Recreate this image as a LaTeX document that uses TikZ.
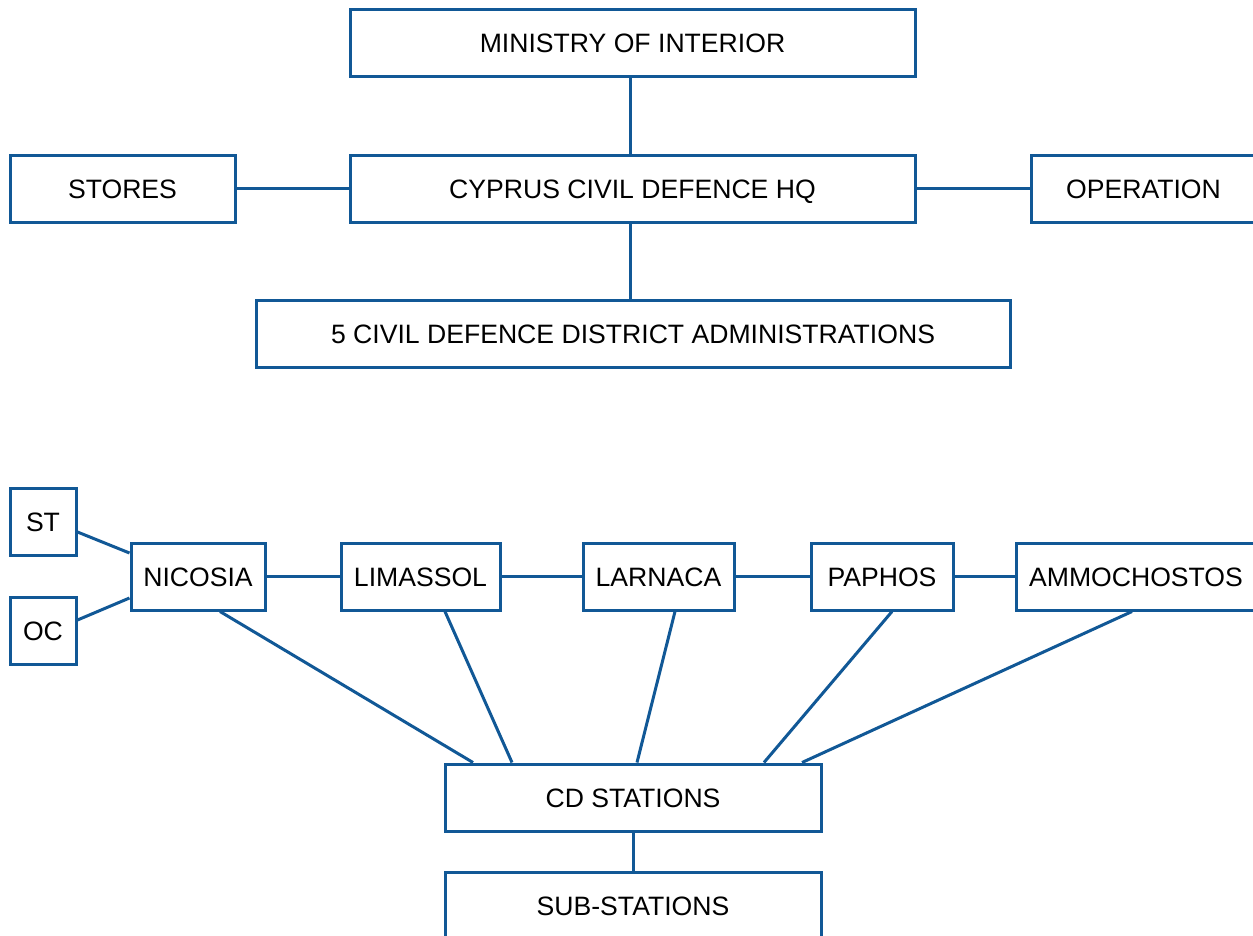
\documentclass[tikz,border=0pt]{standalone}
\usepackage{fontspec}
\setmainfont{Liberation Sans}
\usepackage{tikz}
\definecolor{cdblue}{RGB}{17,88,150}

\begin{document}
\begin{tikzpicture}[x=1pt, y=-1pt,
        font=\fontsize{26.6}{30}\selectfont,
        unit/.style={draw=cdblue, line width=3pt, fill=white, inner sep=0pt,
            minimum height=67pt, text height=19pt, text depth=0pt},
        link/.style={draw=cdblue, line width=3pt}]
            \useasboundingbox (0, 0) rectangle (1253, 935);

            \node[unit, minimum width=565pt] (ministry) at (632.5, 42.5) {MINISTRY OF INTERIOR};
            \node[unit, minimum width=565pt] (hq) at (632.5, 188.5) {CYPRUS CIVIL DEFENCE HQ};
            \node[unit, minimum width=225pt] (stores) at (122.5, 188.5) {STORES};
            \node[unit, minimum width=225pt] (operation) at (1143.5, 188.5) {OPERATION};
            \node[unit, minimum width=754pt] (districts) at (633, 334) {5 CIVIL DEFENCE DISTRICT ADMINISTRATIONS};

            \node[unit, minimum width=66pt] (st) at (43, 521.5) {ST};
            \node[unit, minimum width=66pt] (oc) at (43, 630.5) {OC};
            \node[unit, minimum width=134pt] (nicosia) at (198, 576.5) {NICOSIA};
            \node[unit, minimum width=159pt] (limassol) at (420.5, 576.5) {LIMASSOL};
            \node[unit, minimum width=151pt] (larnaca) at (658.5, 576.5) {LARNACA};
            \node[unit, minimum width=142pt] (paphos) at (882, 576.5) {PAPHOS};
            \node[unit, minimum width=240pt] (ammochostos) at (1136, 576.5) {AMMOCHOSTOS};

            \node[unit, minimum width=376pt] (cd) at (633, 797.5) {CD STATIONS};
            \node[unit, minimum width=376pt] (sub) at (633, 905.5) {SUB-STATIONS};

            \draw[link] ([xshift=-2.5pt]ministry.south) -- ([xshift=-2.5pt]hq.north);
            \draw[link] ([xshift=-2.5pt]hq.south) -- ([xshift=-3pt]districts.north);
            \draw[link] (stores) -- (hq);
            \draw[link] (hq) -- (operation);

            \draw[link] ([yshift=-10.5pt]st.east) -- ([yshift=23.5pt]nicosia.west);
            \draw[link] ([yshift=10.5pt]oc.east) -- ([yshift=-21.5pt]nicosia.west);
            \draw[link] (nicosia) -- (limassol);
            \draw[link] (limassol) -- (larnaca);
            \draw[link] (larnaca) -- (paphos);
            \draw[link] (paphos) -- (ammochostos);

            \draw[link] ([xshift=22pt]nicosia.south) -- ([xshift=-160pt]cd.north);
            \draw[link] ([xshift=24.5pt]limassol.south) -- ([xshift=-121pt]cd.north);
            \draw[link] ([xshift=16.5pt]larnaca.south) -- ([xshift=4pt]cd.north);
            \draw[link] ([xshift=10pt]paphos.south) -- ([xshift=131pt]cd.north);
            \draw[link] ([xshift=-4pt]ammochostos.south) -- ([xshift=169pt]cd.north);

            \draw[link] (cd) -- (sub);
        \end{tikzpicture}
\end{document}
